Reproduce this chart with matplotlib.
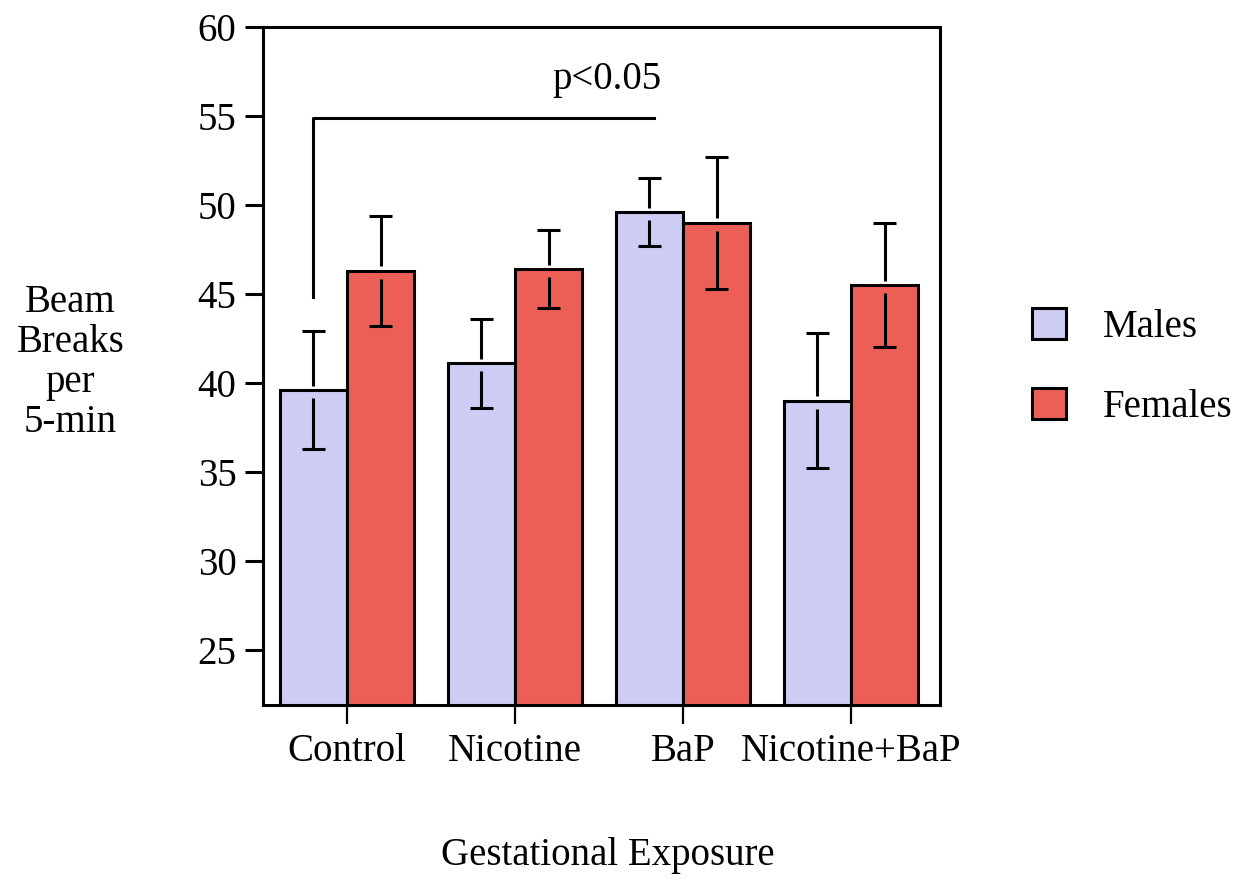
import numpy as np
import matplotlib
matplotlib.use("Agg")
import matplotlib.pyplot as plt
from matplotlib.patches import Patch

# data
groups = ["Control", "Nicotine", "BaP", "Nicotine+BaP"]
males = [39.6, 41.1, 49.6, 39.0]
males_err = [3.3, 2.5, 1.9, 3.8]
females = [46.3, 46.4, 49.0, 45.5]
females_err = [3.1, 2.2, 3.7, 3.5]

male_color = "#CCCCF4"
female_color = "#EB5F56"

plt.rcParams["font.family"] = ["Liberation Serif", "DejaVu Serif"]
plt.rcParams["font.size"] = 28

fig = plt.figure(figsize=(12.56, 8.8), dpi=100)
ax = fig.add_axes([0.2094, 0.1989, 0.5390, 0.7704])

x = np.arange(len(groups))
w = 0.4
lw = 2.2

ax.bar(x - w / 2, males, w, color=male_color, edgecolor="black", linewidth=lw, zorder=2)
ax.bar(x + w / 2, females, w, color=female_color, edgecolor="black", linewidth=lw, zorder=2)


def draw_err(xc, val, err):
    # error bar with small gap around the bar top, like the original
    cap = 0.07
    ax.vlines(xc, val + 0.25, val + err, color="black", linewidth=lw, zorder=3)
    ax.vlines(xc, val - err, val - 0.45, color="black", linewidth=lw, zorder=3)
    ax.hlines([val + err, val - err], xc - cap, xc + cap, color="black", linewidth=lw, zorder=3)


for i in range(len(groups)):
    draw_err(x[i] - w / 2, males[i], males_err[i])
    draw_err(x[i] + w / 2, females[i], females_err[i])

# significance bracket: Control males vs BaP males
ax.plot([x[0] - w / 2, x[0] - w / 2, x[2] - w / 2 + 0.03], [44.8, 54.9, 54.9],
        color="black", linewidth=lw, zorder=3)
ax.text(1.55, 56.0, "p<0.05", ha="center", va="bottom", fontsize=28)

ax.set_xlim(-0.5, 3.53)
ax.set_ylim(21.9, 60)
ax.set_yticks(np.arange(25, 61, 5))
ax.set_xticks(x)
ax.set_xticklabels(groups)
ax.tick_params(axis="y", direction="out", length=13, width=lw, pad=6)
ax.tick_params(axis="x", direction="out", length=14, width=1.6, pad=6)
for s in ax.spines.values():
    s.set_linewidth(lw)

fig.text(0.056, 0.588, "Beam\nBreaks\nper\n5-min", ha="center", va="center",
         fontsize=28, linespacing=1.1)
fig.text(0.484, 0.028, "Gestational Exposure", ha="center", va="center", fontsize=28)

handles = [Patch(facecolor=male_color, edgecolor="black", linewidth=lw, label="Males"),
           Patch(facecolor=female_color, edgecolor="black", linewidth=lw, label="Females")]
fig.legend(handles=handles, loc="center left", bbox_to_anchor=(0.794, 0.583),
           frameon=False, handlelength=0.87, handleheight=0.87,
           handletextpad=0.95, labelspacing=1.08, fontsize=28)

fig.savefig("out.png", dpi=100)
